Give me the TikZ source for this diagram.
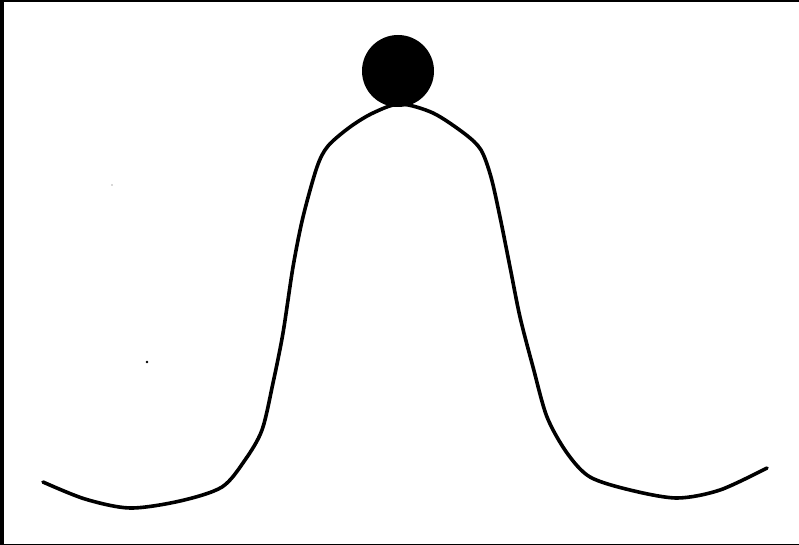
\documentclass[tikz,border=0pt]{standalone}
\begin{document}
\begin{tikzpicture}[x=1pt,y=-1pt,
  hill/.style={line width=3.6pt,line cap=round,line join=round},
  ball/.style={circle,fill=black,minimum size=72pt,inner sep=0pt}]
\useasboundingbox (0,0) rectangle (799,545);
\fill[white] (0,0) rectangle (799,545);
% frame edges
\fill[black] (0,0) rectangle (4,545);
\fill[black] (0,0) rectangle (799,2);
\fill[black] (0,543.5) rectangle (799,545);
% hill
\draw[hill] plot[smooth,tension=0.5] coordinates {
 (43,482) (85,499) (130,508) (180,501) (222,487) (245,460) (262,430)
 (273,383) (283,333) (293,267) (303,217) (317,167) (328,146) (350,127)
 (373,113) (400,104) (433,113) (465,134) (481,150) (491,177) (500,217)
 (510,267) (520,317) (533,367) (547,417) (567,453) (590,477) (630,490)
 (677,498) (720,490) (767,468)};
% ball
\node[ball] (b) at (398,71) {};
% specks
\fill[black] (147,362) circle (1.3);
\fill[black!30] (112,185) circle (0.8);
\end{tikzpicture}
\end{document}
